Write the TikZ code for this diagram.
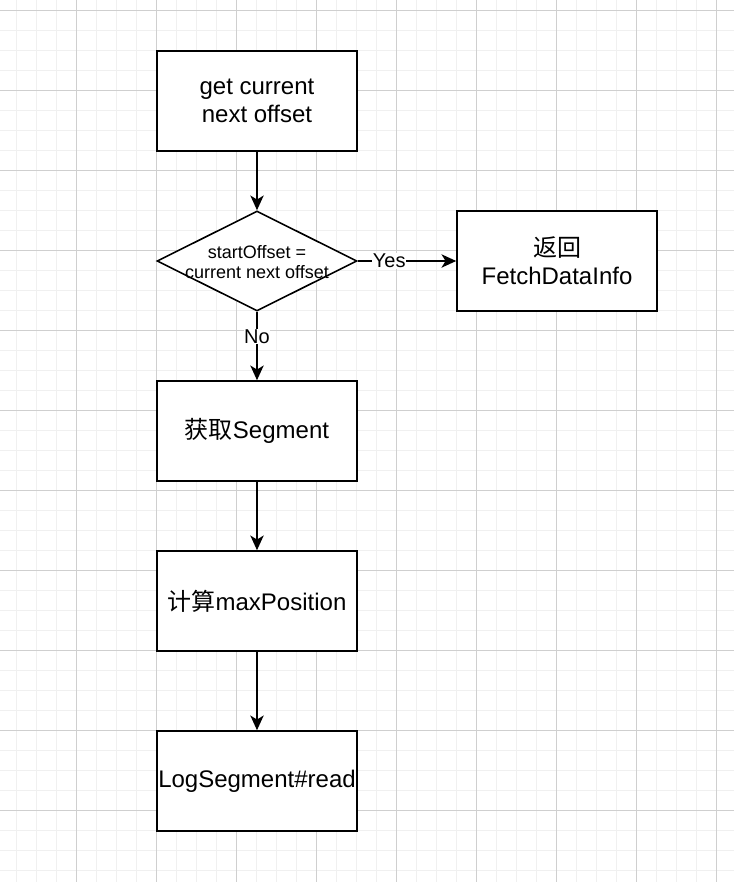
\documentclass[tikz,border=0pt]{standalone}
\usepackage{fontspec}
\setmainfont{Liberation Sans}
\newfontfamily\cjk{Noto Sans CJK SC}
\usetikzlibrary{shapes.geometric, arrows.meta}

\begin{document}
\begin{tikzpicture}[
  x=0.75pt, y=-0.75pt,
  gridminor/.style={draw=black!6, line width=0.75pt},
  gridmajor/.style={draw=black!19, line width=0.75pt},
  procbox/.style={draw, line width=1.2pt, fill=white, minimum width=150pt, minimum height=75pt,
    inner sep=0pt, font=\fontsize{18}{21}\selectfont, align=center},
  decision/.style={draw, diamond, line width=1.2pt, fill=white, minimum width=150pt,
    minimum height=75pt, inner sep=0pt},
  arr/.style={-{Stealth[length=11pt, width=10pt, inset=3pt]}, line width=1.2pt},
  elbl/.style={fill=white, inner sep=0.5pt, font=\fontsize{15}{17}\selectfont}
]
  % --- background grid ---
  \useasboundingbox (0,0) rectangle (734,882);
  \fill[white] (0,0) rectangle (734,882);
  \foreach \x in {16,36,...,734} \draw[gridminor] (\x,0) -- (\x,882);
  \foreach \y in {10,30,...,882} \draw[gridminor] (0,\y) -- (734,\y);
  \foreach \x in {76,156,...,734} \draw[gridmajor] (\x,0) -- (\x,882);
  \foreach \y in {10,90,...,882} \draw[gridmajor] (0,\y) -- (734,\y);

  % --- main column ---
  \node[procbox] (offset) at (257,101) {get current\\next offset};
  \node[decision] (check) at (257,261) {};
  \node[font=\fontsize{13.5}{15}\selectfont, align=center] (checktext) at (257,262) {startOffset =\\current next offset};
  \node[procbox] (segment) at (257,431) {{\cjk 获取}Segment};
  \node[procbox] (maxpos) at (257,601) {{\cjk 计算}maxPosition};
  \node[procbox] (readseg) at (257,781) {LogSegment\#read};

  % --- return branch ---
  \node[procbox] (fetchinfo) at (557,261) {{\cjk 返回}\\FetchDataInfo};

  % --- connectors ---
  \draw[arr] (offset) -- (check);
  \draw[arr] (check.east) -- node[elbl, pos=0.32] {Yes} (fetchinfo);
  \draw[arr] (check.south) -- node[elbl, pos=0.36] {No} (segment);
  \draw[arr] (segment) -- (maxpos);
  \draw[arr] (maxpos) -- (readseg);
\end{tikzpicture}
\end{document}
